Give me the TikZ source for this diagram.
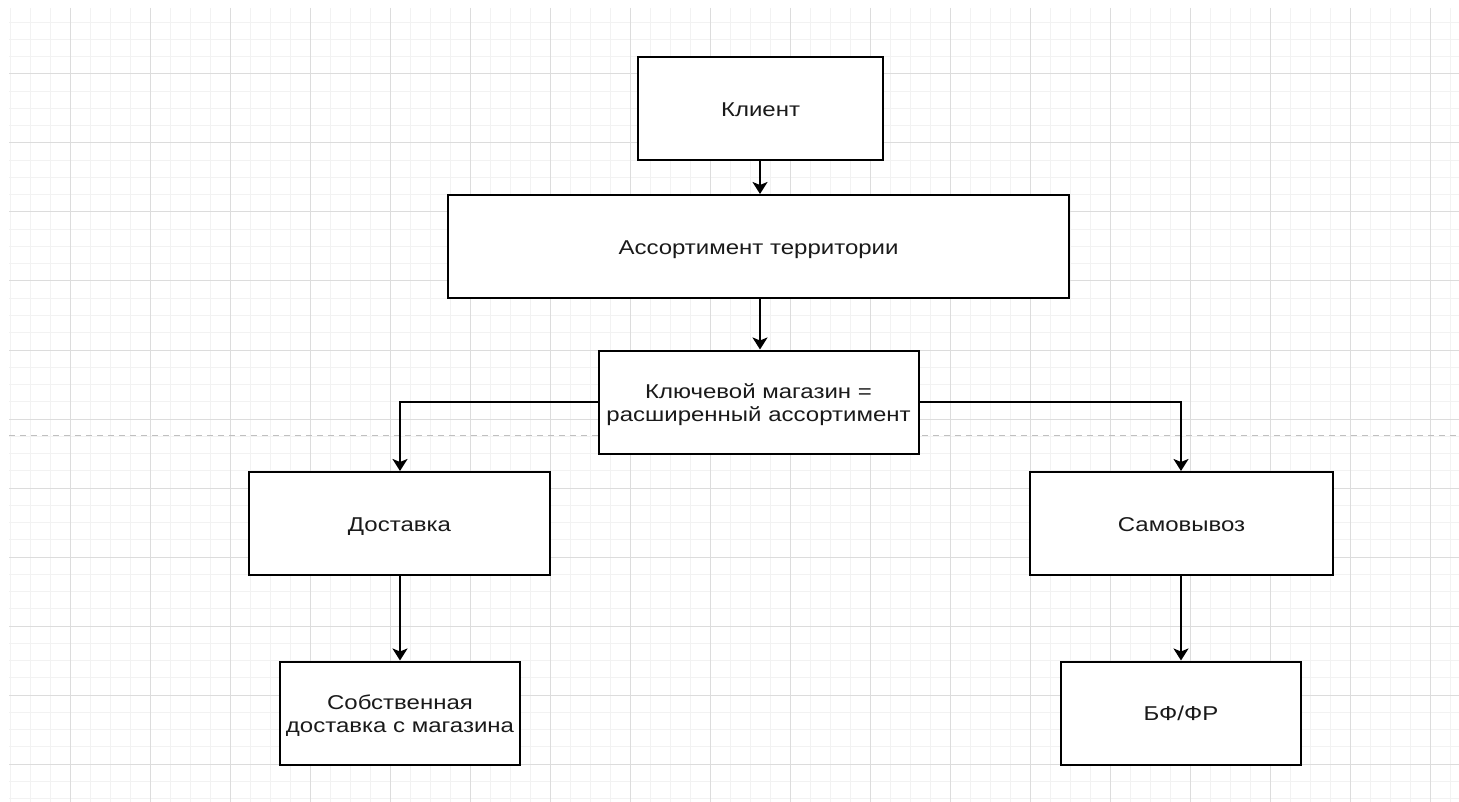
\documentclass[tikz,border=0pt]{standalone}
\usepackage{fontspec}
\usepackage{graphicx}
\setmainfont{Liberation Sans}
\usetikzlibrary{arrows.meta}
\definecolor{gridminor}{HTML}{F2F2F2}
\definecolor{gridmajor}{HTML}{DCDCDC}
\definecolor{pagebreak}{HTML}{C0C0C0}
\definecolor{txt}{HTML}{1A1A1A}
\newcommand{\sxt}[1]{\raisebox{-3pt}[\height][\depth]{\scalebox{1.2}[1]{\begin{tabular}{@{}c@{}}#1\end{tabular}}}}
\tikzset{
  box/.style={draw=black, line width=2pt, fill=white, rectangle, inner sep=0pt,
    minimum height=103pt, font=\fontsize{20}{23}\selectfont, text=txt},
  conn/.style={draw=black, line width=2pt, -{Stealth[length=12pt,width=15pt,inset=3pt]}},
}
\begin{document}
\begin{tikzpicture}[x=1pt,y=-1pt]
\useasboundingbox (0,0) rectangle (1459,802);
% grid
\begin{scope}
\clip (9,8) rectangle (1459,802);
\foreach \i in {0,...,72} \draw[gridminor, line width=1pt] (10+20*\i,8) -- (10+20*\i,802);
\foreach \j in {-3,...,43} \draw[gridminor, line width=1pt] (9,74+17.25*\j) -- (1459,74+17.25*\j);
\foreach \i in {0,...,17} \draw[gridmajor, line width=1pt] (70+80*\i,8) -- (70+80*\i,802);
\foreach \j in {0,...,10} \draw[gridmajor, line width=1pt] (9,74+69*\j) -- (1459,74+69*\j);
\draw[pagebreak, line width=1pt, dash pattern=on 6pt off 5pt] (9,435) -- (1459,435);
\end{scope}
% nodes
\node[box, minimum width=245pt] (client) at (760.5,108.5) {\sxt{Клиент}};
\node[box, minimum width=621pt] (assort) at (758.5,246.5) {\sxt{Ассортимент территории}};
\node[box, minimum width=320pt] (key) at (758.5,402) {\sxt{Ключевой магазин =\\расширенный ассортимент}};
\node[box, minimum width=301pt] (deliv) at (399.5,523.5) {\sxt{Доставка}};
\node[box, minimum width=303pt] (pickup) at (1181.5,523.5) {\sxt{Самовывоз}};
\node[box, minimum width=240pt] (own) at (400,713) {\sxt{Собственная\\доставка с магазина}};
\node[box, minimum width=240pt] (bf) at (1181,713) {\sxt{БФ/ФР}};
% connectors
\draw[conn] (client.south -| 760,0) -- (assort.north -| 760,0);
\draw[conn] (assort.south -| 760,0) -- (key.north -| 760,0);
\draw[conn] (key.west) -| (deliv.north -| 400,0);
\draw[conn] (key.east) -| (pickup.north -| 1181,0);
\draw[conn] (deliv.south -| 400,0) -- (own.north -| 400,0);
\draw[conn] (pickup.south -| 1181,0) -- (bf.north -| 1181,0);
\end{tikzpicture}
\end{document}
